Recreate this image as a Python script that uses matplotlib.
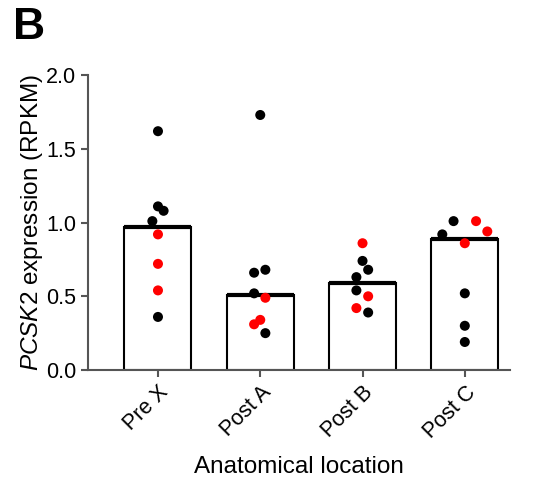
import matplotlib
matplotlib.use("Agg")
import matplotlib.pyplot as plt

plt.rcParams['font.family'] = ['Liberation Sans', 'DejaVu Sans']
plt.rcParams['mathtext.fontset'] = 'custom'
plt.rcParams['mathtext.rm'] = 'Liberation Sans'
plt.rcParams['mathtext.it'] = 'Liberation Sans:italic'

categories = ["Pre X", "Post A", "Post B", "Post C"]
means = [0.97, 0.51, 0.59, 0.89]

# points per group: value, colour, horizontal jitter (category units)
pre_x_vals = [1.62, 1.11, 1.08, 1.01, 0.92, 0.72, 0.54, 0.36]
pre_x_cols = ["k", "k", "k", "k", "r", "r", "r", "k"]
pre_x_jit = [0, 0, 0.055, -0.055, 0, 0, 0, 0]

post_a_vals = [1.73, 0.68, 0.66, 0.52, 0.49, 0.34, 0.31, 0.25]
post_a_cols = ["k", "k", "k", "k", "r", "r", "r", "k"]
post_a_jit = [0, 0.05, -0.06, -0.06, 0.05, 0, -0.06, 0.05]

post_b_vals = [0.86, 0.74, 0.68, 0.63, 0.54, 0.50, 0.42, 0.39]
post_b_cols = ["r", "k", "k", "k", "k", "r", "r", "k"]
post_b_jit = [0, 0, 0.055, -0.06, -0.06, 0.055, -0.06, 0.055]

post_c_vals = [1.01, 1.01, 0.94, 0.92, 0.86, 0.52, 0.30, 0.19]
post_c_cols = ["k", "r", "r", "k", "r", "k", "k", "k"]
post_c_jit = [-0.11, 0.11, 0.22, -0.22, 0, 0, 0, 0]

groups = [
	(pre_x_vals, pre_x_cols, pre_x_jit),
	(post_a_vals, post_a_cols, post_a_jit),
	(post_b_vals, post_b_cols, post_b_jit),
	(post_c_vals, post_c_cols, post_c_jit),
]

fig = plt.figure(figsize=(5.38, 4.93), dpi=100)
ax = fig.add_axes([0.1636, 0.2495, 0.784, 0.598])

xs = list(range(len(categories)))
bw = 0.655
ax.bar(xs, means, width=bw, color="white", edgecolor="black", linewidth=1.5, zorder=1)
# mean line on top of each bar
ax.hlines(means, [x - bw / 2 for x in xs], [x + bw / 2 for x in xs],
	colors="black", linewidth=3, zorder=2)

red = "#ff0000"
for x, (vals, cols, jit) in zip(xs, groups):
	for v, c, j in zip(vals, cols, jit):
		ax.scatter(x + j, v, s=52, color=(red if c == "r" else "black"),
			edgecolors="none", zorder=3)

ax.set_xlim(-0.684, 3.44)
ax.set_ylim(0, 2.0)
ax.set_yticks([0, 0.5, 1.0, 1.5, 2.0])
ax.set_yticklabels(["0.0", "0.5", "1.0", "1.5", "2.0"])
ax.set_xticks(xs)
ax.set_xticklabels(categories, rotation=45, ha="right", rotation_mode="anchor")

for side in ["top", "right"]:
	ax.spines[side].set_visible(False)
for side in ["left", "bottom"]:
	ax.spines[side].set_color("#555555")
	ax.spines[side].set_linewidth(1.5)
ax.tick_params(axis="both", colors="#555555", width=1.5, length=5,
	labelsize=15.5, labelcolor="black")

ax.set_ylabel(r"$\it{PCSK2}$ expression (RPKM)", fontsize=17.5, labelpad=1)
ax.set_xlabel("Anatomical location", fontsize=17.5, labelpad=10)

fig.text(0.025, 0.985, "B", fontsize=32, fontweight="bold", va="top")

plt.savefig("out.png", dpi=100)
